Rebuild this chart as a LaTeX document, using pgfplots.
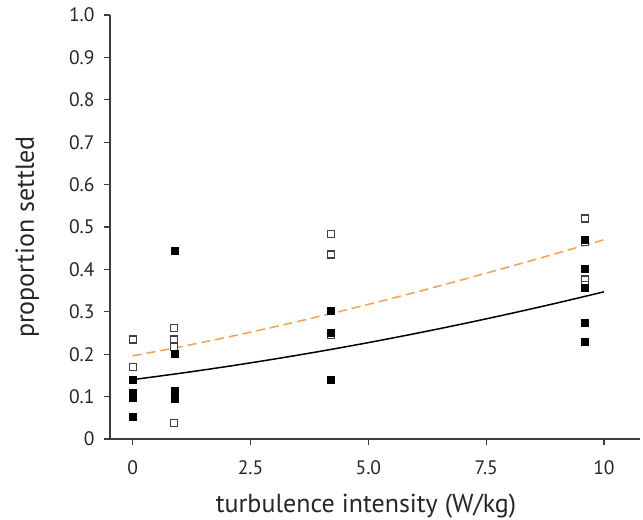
\documentclass[border=0pt]{standalone}
\usepackage{pgfplots}
\pgfplotsset{compat=1.18}
\usepackage{fontspec}
\setmainfont{PT Sans}
\definecolor{fitorange}{RGB}{247,163,92}
\definecolor{axgray}{RGB}{60,60,60}
\begin{document}
\begin{tikzpicture}
\useasboundingbox (-110bp,-81bp) rectangle (533bp,439bp);
\begin{axis}[
  scale only axis,
  width=530bp, height=424bp,
  xmin=-0.482, xmax=10.764,
  ymin=0, ymax=1,
  axis lines=left,
  axis line style={axgray, line width=1.1bp, -},
  every tick/.style={axgray, line width=1.1bp},
  tick align=outside,
  major tick length=6bp,
  xtick={0,2.5,5,7.5,10},
  xticklabels={0,2.5,5.0,7.5,10},
  ytick={0,0.1,...,1.0},
  yticklabels={0,0.1,0.2,0.3,0.4,0.5,0.6,0.7,0.8,0.9,1.0},
  /pgf/number format/assume math mode=true,
  tick label style={font=\fontsize{19.5bp}{22bp}\selectfont, text=black!85},
  xticklabel style={yshift=-12bp},
  yticklabel style={xshift=-6bp},
  label style={font=\fontsize{26bp}{30bp}\selectfont, text=black!85},
  xlabel={turbulence intensity (W/kg)},
  ylabel={proportion settled},
  xlabel style={at={(axis description cs:0.5,0)}, anchor=base, yshift=-73.5bp, xshift=-9bp},
  ylabel style={at={(axis description cs:0,0.5)}, anchor=base, yshift=76bp, xshift=-10bp},
  clip=false,
]
\draw[axgray, line width=1.1bp] (axis description cs:0,0) -- ++(-6bp,0);
% fitted curves
\addplot[black, line width=1.5bp, smooth] coordinates {
 (0,0.1400) (1,0.1549) (2,0.1710) (3,0.1885) (4,0.2072) (5,0.2273)
 (6,0.2488) (7,0.2715) (8,0.2955) (9,0.3207) (10,0.3471)};
\addplot[fitorange, line width=1.6bp, dash pattern=on 9bp off 5bp, smooth] coordinates {
 (0,0.196) (1,0.2172) (2,0.2400) (3,0.2643) (4,0.2902) (5,0.3175)
 (6,0.3460) (7,0.3758) (8,0.4065) (9,0.4380) (10,0.4700)};
% open squares
\addplot[only marks, mark=square*, mark size=3.5bp,
  mark options={draw=black!75, fill=white, line width=1.3bp}] coordinates {
 (0,0.235) (0,0.169)
 (0.88,0.261) (0.88,0.235) (0.88,0.217) (0.88,0.037)
 (4.2,0.484) (4.2,0.435) (4.2,0.245)
 (9.6,0.520) (9.6,0.465) (9.6,0.376) (9.6,0.364)};
% filled squares
\addplot[only marks, mark=square*, mark size=3.5bp,
  mark options={draw=black, fill=black, line width=0.3bp}] coordinates {
 (0,0.139) (0,0.110) (0,0.098) (0,0.052)
 (0.88,0.445) (0.88,0.202) (0.88,0.114) (0.88,0.096)
 (4.2,0.302) (4.2,0.252) (4.2,0.139)
 (9.6,0.470) (9.6,0.402) (9.6,0.357) (9.6,0.275) (9.6,0.229)};
\end{axis}
\end{tikzpicture}
\end{document}
